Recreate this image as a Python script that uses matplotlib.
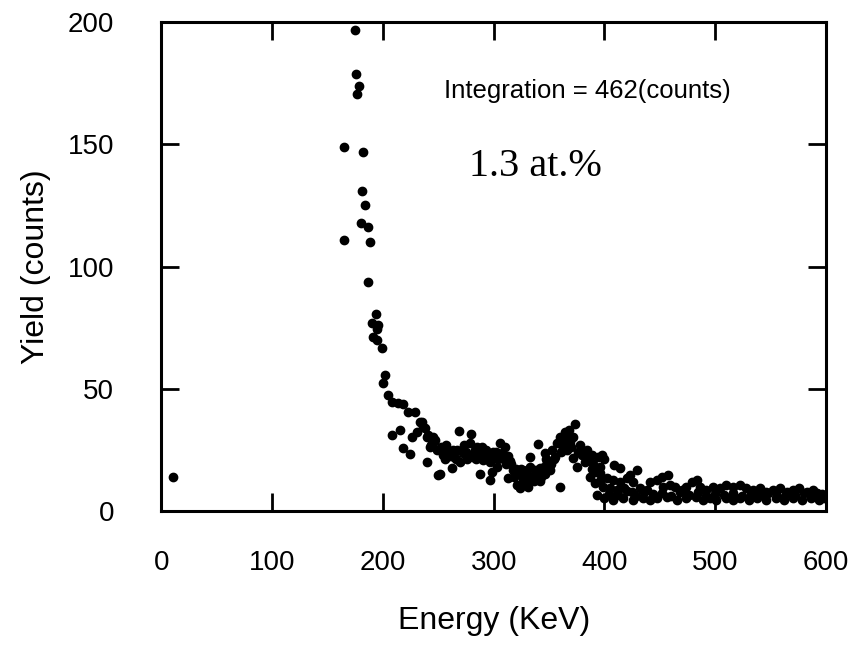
import numpy as np
import matplotlib
matplotlib.use("Agg")
import matplotlib.pyplot as plt

# energy (keV) / yield (counts)
energy = [11,
          165, 165, 175, 176, 177, 178.5, 180, 181, 182, 184, 187, 188,
          186.6, 190, 191, 193.7, 194.8, 194.8, 195.5, 199,
          200, 202, 204.7, 208, 208, 213.7, 215.5, 218, 218,
          222.7, 224.5, 226, 229, 231, 233.5, 235, 236, 238, 240, 240, 241, 242.5, 245, 245,
          249, 250, 251.6, 254, 256, 258, 260.6, 262, 264, 267, 268.7, 270, 272, 275, 276,
          278.6, 279.5, 281, 283, 285, 287.6, 287.6, 290, 292, 294, 296.7, 297, 298.5, 300,
          302, 303, 304, 305.7, 307.5, 310, 311, 313, 313, 314.7, 317.4, 318, 320.9, 323.7, 323.7,
          326, 327, 328, 330, 331, 332.5, 332.7, 334, 336, 337, 339, 340, 341.7, 342, 343, 344,
          346, 346, 348, 349, 350.8, 352, 352.6, 355,
          357, 359.8, 359.8, 362, 364, 366, 367, 369, 371.5, 371.5, 373, 375, 377.8, 380, 382, 384,
          386.8, 388.6, 390, 391, 393, 394, 395.8, 396, 397.6, 398.5, 400, 400,
          402, 405, 407.6, 407.6, 409, 411, 414, 414, 416.6, 418, 420, 423, 424.7, 425.6, 425.6,
          429, 432, 434.6, 438, 441, 441, 447, 447, 451.7, 452.6, 456, 457, 459, 463.5, 465,
          469.8, 474, 474, 478.8, 483, 483.3, 486, 488.7, 492, 495, 497.7, 501, 504, 510, 510,
          515.8, 515.8, 522, 522, 528, 530, 534, 538, 540, 546, 546, 552, 555, 558, 562, 564.5,
          570, 570, 576, 578, 582.5, 586, 588, 592, 594, 598,
          # thicker parts of the band
          243, 247, 252, 257, 263, 266, 273, 277, 284, 289, 293, 299, 306, 309, 316,
          320, 325, 329, 333, 338, 345, 347, 354, 361, 363, 368, 370, 376, 379, 385,
          389, 392, 397,
          404, 412, 420, 428, 436, 444, 452, 460, 468, 476, 484, 492, 500, 508, 516,
          524, 532, 540, 548, 556, 564, 572, 580, 588, 596]
yields = [14,
          149, 111, 197, 179, 170.5, 174, 118, 131, 147, 125, 116, 110,
          93.7, 77, 71, 80.6, 74.4, 70, 76, 66.6,
          52.4, 55.6, 47.4, 44.6, 31, 44.2, 33, 43.8, 25.8,
          40.5, 23.3, 30.3, 40.5, 32.3, 36.4, 36.4, 34.4, 34, 30.3, 20, 31, 26.2, 28.2, 30,
          25, 14.7, 15, 23, 21, 24, 22.5, 17.6, 22, 25, 32.7, 20, 23.7, 24, 21,
          27.8, 31.5, 22, 25, 26.2, 23.7, 15.1, 20.9, 22, 23.7, 12.7, 20, 16, 22,
          24, 18, 21, 27.8, 23.7, 26.2, 19, 22.5, 13.5, 20.4, 16.8, 14, 10.6, 15.5, 9.4,
          13, 11.5, 15, 16.8, 9.8, 18, 22, 14, 12, 16.8, 15, 27.4, 17.6, 12, 14, 16.8,
          23.7, 15, 20, 18.8, 16.8, 19, 25, 22,
          27.8, 30.3, 9.8, 27, 32.3, 25, 31, 28, 30, 21.7, 35.6, 18, 27, 23, 20, 25,
          14, 23, 19, 11.5, 6.5, 22, 15.5, 18, 23, 9.8, 21, 5.3,
          13.5, 9.4, 12.7, 4.5, 18.8, 8.6, 17.6, 11.9, 5.3, 9.4, 13.5, 14.7, 7.8, 11.9, 4.5,
          16.8, 9.4, 5.3, 8.6, 11.9, 4.5, 12.7, 5.3, 13.9, 9.8, 5.7, 14.7, 10.6, 9.8, 4.5,
          8.6, 9.8, 5.3, 11.9, 5.7, 12.7, 9.8, 4.5, 8.6, 5.3, 9.8, 4.5, 9.4, 10.6, 5.3,
          9.8, 4.5, 10.6, 5.3, 9.4, 4.5, 8.6, 5.3, 9.4, 7.8, 4.5, 8.6, 5.3, 9.4, 4.5, 7.8,
          8.6, 5.3, 9.4, 4.5, 7.8, 5.3, 8.6, 7.4, 4.5, 5.3,
          27, 29, 26, 27, 25, 21, 27, 23, 21, 26, 25, 24, 22, 21, 19,
          17, 17, 14, 12.5, 13, 18, 21, 21, 24, 29, 33, 26, 24, 25, 21,
          17, 16, 13,
          7, 6.5, 8, 6, 7.5, 6.8, 7.2, 6, 7.5, 6.5, 7.8, 6.2, 7, 6.6, 7.4,
          6.2, 7, 6.5, 7.2, 6, 7, 6.4, 7.2, 6.2, 6.8]

xticks = [0, 100, 200, 300, 400, 500, 600]
yticks = [0, 50, 100, 150, 200]

plt.rcParams['font.family'] = ['Liberation Sans', 'DejaVu Sans']

fig = plt.figure(figsize=(8.49, 6.54), dpi=100)
ax = fig.add_axes([0.19, 0.219, 0.783, 0.747])

ax.plot(energy, yields, 'ko', ms=6, mec='k')

ax.set_xlim(0, 600)
ax.set_ylim(0, 200)
ax.set_xticks(xticks)
ax.set_yticks(yticks)
ax.tick_params(direction='in', length=13, width=2, top=True, right=True,
               labelsize=20)
ax.tick_params(axis='x', pad=28)
ax.tick_params(axis='y', pad=34)
for s in ax.spines.values():
    s.set_linewidth(2.2)

ax.set_xlabel("Energy (KeV)", fontsize=23, labelpad=22)
ax.set_ylabel("Yield (counts)", fontsize=23, labelpad=12)

ax.text(0.425, 0.845, "Integration = 462(counts)", transform=ax.transAxes,
        fontsize=18.5)
ax.text(0.463, 0.685, "1.3 at.%", transform=ax.transAxes,
        fontsize=29, family='Liberation Serif')

fig.savefig("out.png", dpi=100)
